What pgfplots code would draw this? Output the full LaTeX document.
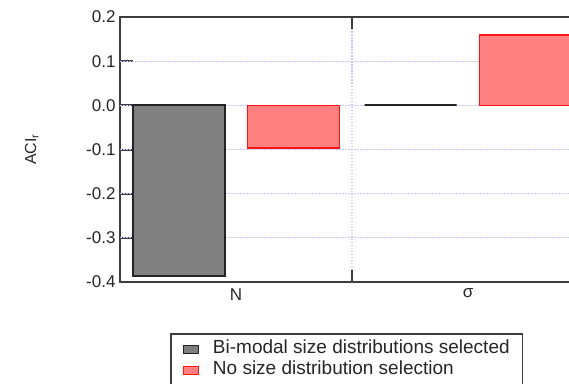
\documentclass[border=0pt]{standalone}
\usepackage{pgfplots}
\pgfplotsset{compat=1.18}
\usepackage{fontspec}
\setmainfont{Liberation Sans}
\definecolor{barGray}{RGB}{128,128,128}
\definecolor{edgeGray}{RGB}{35,35,35}
\definecolor{barRed}{RGB}{255,128,128}
\definecolor{edgeRed}{RGB}{255,20,20}
\definecolor{gridBlue}{RGB}{200,200,252}
\definecolor{axisGray}{RGB}{60,60,60}

\begin{document}
\begin{tikzpicture}
% the axis box has its lower left corner at the origin
\useasboundingbox (-120pt,-101pt) rectangle (449pt,282pt);
\clip (-120pt,-101pt) rectangle (449pt,282pt);
\begin{axis}[
  scale only axis, width=464pt, height=265pt,
  xmin=-0.5, xmax=1.5, ymin=-0.4, ymax=0.2,
  ybar=23pt, bar width=92pt,
  xtick={0,1}, xticklabels={N,σ},
  major x tick style={draw=none},
  minor xtick={0.5}, minor tick length=12pt,
  ytick={-0.4,-0.3,-0.2,-0.1,0,0.1,0.2},
  yticklabels={-0.4,-0.3,-0.2,-0.1,0.0,0.1,0.2},
  xmajorgrids=false, xminorgrids=true, ymajorgrids=false,
  major tick length=13pt, tick align=inside,
  axis line style={axisGray, line width=2pt},
  minor tick style={axisGray, line width=2pt},
  major y tick style={axisGray, line width=2pt},
  minor grid style={gridBlue, solid, dash pattern=on 1.5pt off 1.5pt, line width=1.2pt},
  tick label style={font=\fontsize{17}{20}\selectfont, text=black!85},
  yticklabel style={xshift=-1pt},
  xticklabel style={yshift=-3pt},
  ylabel={ACI\textsubscript{r}},
  every axis y label/.style={at={(axis description cs:-0.19,0.5)}, rotate=90, anchor=center, font=\fontsize{16}{18}\selectfont, text=black!85},
  legend style={at={(0.1078,-0.1925)}, anchor=north west, draw=axisGray, line width=1.5pt,
    font=\fontsize{19}{20}\selectfont, text=black!85, inner xsep=12pt, inner ysep=5pt,
    nodes={inner sep=1pt, text height=14pt, text depth=5pt},
    /tikz/every odd column/.append style={column sep=13pt}},
  legend cell align=left,
  legend image code/.code={\draw[#1, line width=1.2pt] (0pt,-4pt) rectangle (15pt,4pt);},
]
% horizontal dotted grid at the inner y ticks, behind the bars
\pgfplotsinvokeforeach{-0.3,-0.2,-0.1,0,0.1}{
  \draw[gridBlue, dash pattern=on 1.5pt off 1.5pt, line width=1.2pt]
    (axis cs:-0.5,#1) -- (axis cs:1.5,#1);
}
\addplot[fill=barGray, draw=edgeGray, line width=2pt] coordinates {(0,-0.386) (1,0)};
\addplot[fill=barRed, draw=edgeRed, line width=1.5pt] coordinates {(0,-0.097) (1,0.159)};
\legend{Bi-modal size distributions selected, No size distribution selection}
\end{axis}
\end{tikzpicture}
\end{document}
